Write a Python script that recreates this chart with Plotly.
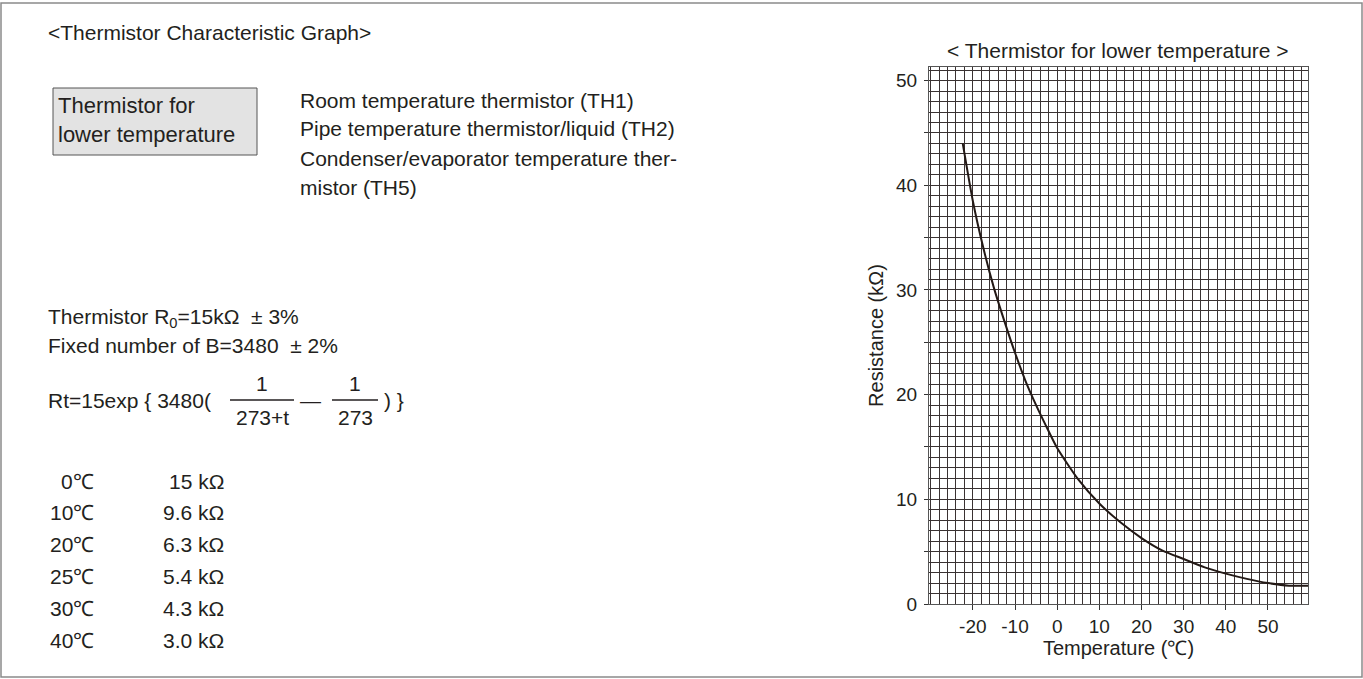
import plotly.graph_objects as go

# ---- data ----
temperature_c = [-22.4, -20, -17.5, -15, -12.5, -10, -7.5, -5, -2.5, 0, 5, 10, 15, 20, 25, 30, 35, 40, 45, 50, 55, 59.5]
resistance_kohm = [44.0, 38.5, 34.0, 30.2, 27.0, 24.0, 21.3, 19.0, 16.9, 14.9, 11.9, 9.6, 7.8, 6.3, 5.1, 4.3, 3.5, 2.9, 2.4, 2.0, 1.75, 1.75]

x_tick_values = [-20, -10, 0, 10, 20, 30, 40, 50]
x_tick_labels = ["-20", "-10", "0", "10", "20", "30", "40", "50"]
y_tick_values = [0, 5, 10, 15, 20, 25, 30, 35, 40, 45, 50]
y_tick_labels = ["0", "", "10", "", "20", "", "30", "", "40", "", "50"]

table_temps = ["0℃", "10℃", "20℃", "25℃", "30℃", "40℃"]
table_values = ["15 kΩ", "9.6 kΩ", "6.3 kΩ", "5.4 kΩ", "4.3 kΩ", "3.0 kΩ"]

W, H = 1363, 679
PL, PR, PT, PB = 929, 1308, 67, 604

def px(x):
    return (x - PL) / (PR - PL)

def py(y):
    return (PB - y) / (PB - PT)

FONT = "Liberation Sans, Arial, sans-serif"
TXT = "#231f20"
GRID = "#3a3232"
FS = 21

fig = go.Figure()
fig.add_trace(go.Scatter(
    x=temperature_c, y=resistance_kohm, mode="lines",
    line=dict(color="#231815", width=2, shape="spline", smoothing=0.6),
    hoverinfo="skip", showlegend=False))

fig.update_layout(
    width=W, height=H,
    margin=dict(l=PL, r=W - PR, t=PT, b=H - PB, pad=0),
    paper_bgcolor="white", plot_bgcolor="white",
    font=dict(family=FONT, color=TXT, size=19),
    showlegend=False,
)

fig.update_xaxes(
    range=[-30.4, 59.5], tickmode="array", tickvals=x_tick_values, ticktext=x_tick_labels,
    ticks="outside", ticklen=5, tickcolor="#333", tickwidth=1,
    showgrid=True, gridcolor=GRID, gridwidth=1,
    minor=dict(tick0=0, dtick=2, showgrid=True, gridcolor=GRID, gridwidth=1, ticks=""),
    showline=True, linecolor="#555", linewidth=1.2, mirror=True,
    zeroline=False, tickfont=dict(size=19, family=FONT, color=TXT),
    title=dict(text="Temperature (℃)", font=dict(size=20, family=FONT, color=TXT), standoff=2),
)
fig.update_yaxes(
    range=[0, 51.3], tickmode="array", tickvals=y_tick_values, ticktext=y_tick_labels,
    ticks="outside", ticklen=4, tickcolor="#333", tickwidth=1,
    showgrid=True, gridcolor=GRID, gridwidth=1,
    minor=dict(tick0=0, dtick=1, showgrid=True, gridcolor=GRID, gridwidth=1, ticks=""),
    showline=True, linecolor="#555", linewidth=1.2, mirror=True,
    zeroline=False, tickfont=dict(size=19, family=FONT, color=TXT),
    ticklabelstandoff=3,
    title=dict(text="Resistance (kΩ)", font=dict(size=20, family=FONT, color=TXT), standoff=6),
)

ann = []
def text(x, y, s, size=FS, xanchor="left", yanchor="middle"):
    ann.append(dict(x=px(x), y=py(y), xref="paper", yref="paper", text=s, showarrow=False,
                    xanchor=xanchor, yanchor=yanchor, align="left",
                    font=dict(size=size, family=FONT, color=TXT)))

# chart title
text(1118, 50, "&lt; Thermistor for lower temperature &gt;", size=21, xanchor="center")

# left block
text(46, 33, "&lt;Thermistor Characteristic Graph&gt;")
text(56, 106, "Thermistor for", size=22)
text(56, 134, "lower temperature", size=22)
text(298, 100, "Room temperature thermistor (TH1)")
text(298, 128, "Pipe temperature thermistor/liquid (TH2)")
text(298, 158, "Condenser/evaporator temperature ther-")
text(298, 187, "mistor (TH5)")

text(46, 318, "Thermistor R<sub>0</sub>=15kΩ  ± 3%")
text(46, 345, "Fixed number of B=3480  ± 2%")

text(46, 400, "Rt=15exp { 3480(")
text(262, 383, "1", xanchor="center")
text(262, 417, "273+t", xanchor="center")
text(310, 400, "—", xanchor="center")
text(355, 383, "1", xanchor="center")
text(355, 417, "273", xanchor="center")
text(382, 400, ") }")

for i, (t, v) in enumerate(zip(table_temps, table_values)):
    yy = 481 + i * 31.8
    text(96, yy, t, xanchor="right")
    text(226, yy, v, xanchor="right")

fig.update_layout(annotations=ann)

shapes = [
    # outer frame
    dict(type="rect", xref="paper", yref="paper", x0=px(1), x1=px(W - 1), y0=py(H - 2), y1=py(3),
         line=dict(color="#8a8a8a", width=1.5), fillcolor="rgba(0,0,0,0)", layer="below"),
    # gray label box
    dict(type="rect", xref="paper", yref="paper", x0=px(53), x1=px(257), y0=py(155), y1=py(88),
         line=dict(color="#555", width=1), fillcolor="#e3e3e3", layer="below"),
    # fraction bars
    dict(type="line", xref="paper", yref="paper", x0=px(230), x1=px(294), y0=py(400), y1=py(400),
         line=dict(color=TXT, width=1.5)),
    dict(type="line", xref="paper", yref="paper", x0=px(332), x1=px(378), y0=py(400), y1=py(400),
         line=dict(color=TXT, width=1.5)),
]
fig.update_layout(shapes=shapes)

fig.write_html("out.html", config={"displayModeBar": False},
               post_script="document.body.style.margin='0px';document.body.style.overflow='hidden';")
